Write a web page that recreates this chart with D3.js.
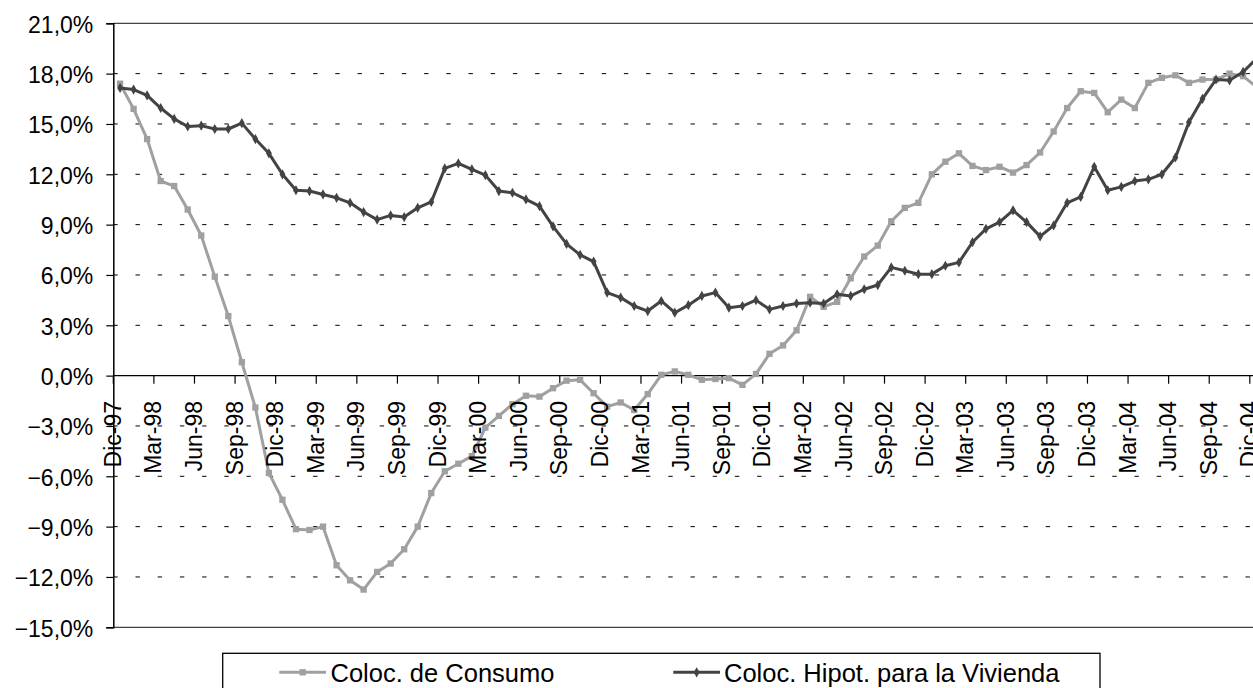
<!DOCTYPE html>
<html>
<head>
<meta charset="utf-8">
<script src="https://cdn.jsdelivr.net/npm/d3@7"></script>
<style>
  html, body { margin: 0; padding: 0; background: #fff; overflow: hidden; }
  text { font-family: "Liberation Sans", Arial, sans-serif; fill: #000; }
</style>
</head>
<body>
<div class="panel"></div>
<script>
// Data (monthly, Dic-97 .. Dic-04)

const tickLabels = [
    "Dic-97", "Mar-98", "Jun-98", "Sep-98", "Dic-98", "Mar-99", "Jun-99", "Sep-99",
    "Dic-99", "Mar-00", "Jun-00", "Sep-00", "Dic-00", "Mar-01", "Jun-01", "Sep-01",
    "Dic-01", "Mar-02", "Jun-02", "Sep-02", "Dic-02", "Mar-03", "Jun-03", "Sep-03",
    "Dic-03", "Mar-04", "Jun-04", "Sep-04", "Dic-04"
];

const seriesNames = ["Coloc. de Consumo", "Coloc. Hipot. para la Vivienda"];

const consumo = [
    17.4, 15.9, 14.1, 11.6, 11.3, 9.9, 8.35, 5.9, 3.55, 0.8,
    -1.9, -5.8, -7.4, -9.15, -9.2, -9.0, -11.3, -12.2, -12.75, -11.7,
    -11.2, -10.35, -9.0, -7.0, -5.7, -5.25, -4.8, -3.1, -2.4, -1.7,
    -1.2, -1.25, -0.75, -0.3, -0.25, -1.05, -1.85, -1.6, -2.05, -1.1,
    0.05, 0.25, 0.05, -0.25, -0.2, -0.15, -0.55, 0.1, 1.3, 1.8,
    2.7, 4.7, 4.1, 4.4, 5.8, 7.1, 7.75, 9.2, 10.0, 10.3,
    12.0, 12.75, 13.25, 12.5, 12.25, 12.45, 12.1, 12.55, 13.3, 14.55,
    15.95, 16.95, 16.85, 15.7, 16.45, 15.95, 17.45, 17.75, 17.9, 17.45,
    17.65, 17.65, 18.0, 17.85, 17.2
];

const vivienda = [
    17.15, 17.05, 16.7, 15.95, 15.3, 14.85, 14.9, 14.7, 14.7, 15.05,
    14.1, 13.25, 12.0, 11.05, 11.0, 10.8, 10.6, 10.3, 9.75, 9.3,
    9.55, 9.45, 10.0, 10.35, 12.35, 12.65, 12.3, 11.95, 11.0, 10.9,
    10.5, 10.1, 8.9, 7.85, 7.2, 6.8, 4.95, 4.65, 4.15, 3.85,
    4.45, 3.75, 4.2, 4.75, 4.95, 4.05, 4.15, 4.5, 3.95, 4.15,
    4.3, 4.35, 4.3, 4.85, 4.75, 5.15, 5.4, 6.45, 6.25, 6.05,
    6.05, 6.55, 6.75, 7.95, 8.75, 9.15, 9.85, 9.15, 8.3, 8.95,
    10.3, 10.65, 12.45, 11.05, 11.25, 11.6, 11.7, 12.0, 13.0, 15.1,
    16.5, 17.65, 17.6, 18.1, 18.9
];

const yTicks = [21, 18, 15, 12, 9, 6, 3, 0, -3, -6, -9, -12, -15];

// Chart

const W = 1253, H = 688;
const plotLeft = 113.3, plotTop = 23.3, plotBottom = 627.3;
const monthW = 13.53;
const months = d3.range(consumo.length);

const svg = d3.select(".panel").append("svg")
    .attr("width", W)
    .attr("height", H);

const x = d3.scaleBand()
    .domain(months)
    .range([plotLeft, plotLeft + monthW * months.length])
    .padding(0);

const y = d3.scaleLinear()
    .domain([-15, 21])
    .range([plotBottom, plotTop]);

const cx = i => x(i) + x.bandwidth() / 2;

// gridlines
svg.append("g")
    .selectAll("line")
    .data(yTicks.filter(d => d !== 21 && d !== 0 && d !== -15))
    .enter().append("line")
    .attr("x1", plotLeft).attr("x2", W + 20)
    .attr("y1", d => y(d)).attr("y2", d => y(d))
    .attr("stroke", "#000")
    .attr("stroke-width", 1)
    .attr("stroke-dasharray", "4.4,17.8");

// plot border (top / bottom)
[21, -15].forEach(v => {
    svg.append("line")
        .attr("x1", plotLeft).attr("x2", W + 20)
        .attr("y1", y(v)).attr("y2", y(v))
        .attr("stroke", "#444").attr("stroke-width", 1.2);
});

// y axis
const yAxis = svg.append("g")
    .attr("transform", `translate(${plotLeft},0)`)
    .call(d3.axisLeft(y).tickValues(yTicks).tickSize(7).tickFormat(""));
yAxis.select(".domain").attr("stroke", "#000").attr("stroke-width", 1.5);
yAxis.selectAll(".tick line").attr("stroke", "#000").attr("stroke-width", 1.2);

const fmt = v => (v < 0 ? "\u2212" : "") + d3.format(".1f")(Math.abs(v)).replace(".", ",") + "%";

svg.append("g")
    .selectAll("text")
    .data(yTicks)
    .enter().append("text")
    .attr("x", 93.3)
    .attr("y", d => y(d) + 9.2)
    .attr("text-anchor", "end")
    .style("font-size", "23px")
    .text(fmt);

// x axis at 0
const tickIdx = months.filter(i => i % 3 === 0);
const xAxis = svg.append("g")
    .attr("transform", `translate(0,${y(0)})`)
    .call(d3.axisBottom(x).tickValues(tickIdx).tickSize(8).tickFormat(""));
xAxis.select(".domain").remove();
xAxis.selectAll(".tick").attr("transform", d => `translate(${x(d)},0)`);
xAxis.selectAll(".tick line").attr("stroke", "#000").attr("stroke-width", 1.2);
svg.append("line")
    .attr("x1", plotLeft).attr("x2", W + 20)
    .attr("y1", y(0)).attr("y2", y(0))
    .attr("stroke", "#000").attr("stroke-width", 1.3);

// series
const lineGen = d3.line().x((d, i) => cx(i)).y(d => y(d));

const series = [
    { name: seriesNames[0], values: consumo, color: "#a0a0a0", marker: "square" },
    { name: seriesNames[1], values: vivienda, color: "#404540", marker: "diamond" }
];

const markerPath = m => m === "square"
    ? d3.symbol().type(d3.symbolSquare).size(40)()
    : d3.symbol().type(d3.symbolDiamond).size(30)();

series.forEach(s => {
    svg.append("path")
        .datum(s.values)
        .attr("fill", "none")
        .attr("stroke", s.color)
        .attr("stroke-width", 3)
        .attr("stroke-linejoin", "round")
        .attr("d", lineGen);

    svg.append("g")
        .selectAll("path")
        .data(s.values)
        .enter().append("path")
        .attr("transform", (d, i) => `translate(${cx(i)},${y(d)})`)
        .attr("d", markerPath(s.marker))
        .attr("fill", s.color);
});

// x labels (drawn over the lines, as in the reference)
svg.append("g")
    .selectAll("text")
    .data(tickIdx)
    .enter().append("text")
    .attr("transform", d => `translate(${x(d) + 7.6},401) rotate(-90)`)
    .attr("text-anchor", "end")
    .style("font-size", "23px")
    .text((d, k) => tickLabels[k]);

// legend
const legend = svg.append("g");
legend.append("rect")
    .attr("x", 222.7).attr("y", 653.3)
    .attr("width", 877.3).attr("height", 60)
    .attr("fill", "#fff")
    .attr("stroke", "#000").attr("stroke-width", 1.3);

const legendPos = [
    { x1: 279.3, x2: 326, tx: 330.5 },
    { x1: 673.3, x2: 720, tx: 724 }
];

series.forEach((s, k) => {
    const p = legendPos[k];
    legend.append("line")
        .attr("x1", p.x1).attr("x2", p.x2)
        .attr("y1", 672.3).attr("y2", 672.3)
        .attr("stroke", s.color).attr("stroke-width", 3);
    legend.append("path")
        .attr("transform", `translate(${(p.x1 + p.x2) / 2},672.3)`)
        .attr("d", markerPath(s.marker))
        .attr("fill", s.color);
    legend.append("text")
        .attr("x", p.tx)
        .attr("y", 682)
        .style("font-size", "25.5px")
        .text(s.name);
});
</script>
</body>
</html>
